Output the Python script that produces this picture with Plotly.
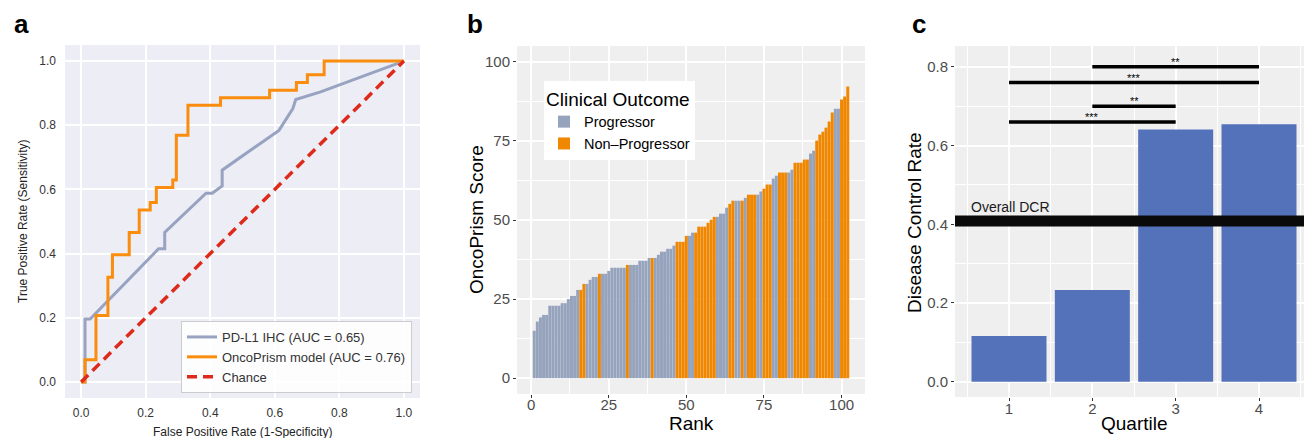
import plotly.graph_objects as go

W, H = 1304, 438
FONT = "Liberation Sans, Arial, Helvetica, sans-serif"

# ---------------- Panel a: ROC curves ----------------
pdl1_fpr = [0.0, 0.012, 0.012, 0.028, 0.240, 0.259, 0.259, 0.387, 0.406, 0.437, 0.437,
            0.613, 0.656, 0.665, 0.742, 1.0]
pdl1_tpr = [0.0, 0.0, 0.196, 0.196, 0.415, 0.415, 0.466, 0.588, 0.588, 0.611, 0.660,
            0.784, 0.852, 0.880, 0.904, 1.0]
onco_fpr = [0.0, 0.012, 0.012, 0.046, 0.046, 0.083, 0.083, 0.097, 0.097, 0.149, 0.149,
            0.180, 0.180, 0.214, 0.214, 0.233, 0.233, 0.284, 0.284, 0.295, 0.295,
            0.331, 0.331, 0.432, 0.432, 0.584, 0.584, 0.667, 0.667, 0.701, 0.701,
            0.753, 0.753, 1.0]
onco_tpr = [0.0, 0.0, 0.069, 0.069, 0.207, 0.207, 0.326, 0.326, 0.396, 0.396, 0.466,
            0.466, 0.536, 0.536, 0.559, 0.559, 0.606, 0.606, 0.629, 0.629, 0.769,
            0.769, 0.862, 0.862, 0.886, 0.886, 0.909, 0.909, 0.933, 0.933, 0.957,
            0.957, 1.0, 1.0]
chance_x = [0.0, 1.0]
chance_y = [0.0, 1.0]
roc_names = ["PD-L1 IHC (AUC = 0.65)", "OncoPrism model (AUC = 0.76)", "Chance"]
roc_ticks = [0.0, 0.2, 0.4, 0.6, 0.8, 1.0]

# ---------------- Panel b: ranked scores ----------------
scores = [15.0, 17.9, 19.2, 20.0, 20.0, 22.9, 22.9, 22.9, 22.9, 23.7,
          23.7, 25.0, 26.0, 26.0, 27.9, 27.9, 29.8, 29.8, 31.1, 32.0,
          32.0, 33.0, 33.0, 33.0, 33.9, 34.9, 34.9, 34.9, 34.9, 34.9,
          35.8, 35.8, 35.8, 35.8, 37.1, 37.1, 37.1, 38.0, 38.0, 38.0,
          39.0, 40.0, 40.0, 40.9, 40.9, 41.9, 43.1, 43.1, 43.1, 45.0,
          45.0, 46.0, 46.0, 47.9, 47.9, 47.9, 49.1, 50.1, 51.0, 51.0,
          52.0, 52.0, 53.9, 55.1, 56.1, 56.1, 56.1, 56.1, 57.0, 58.0,
          58.0, 58.0, 58.0, 59.0, 59.9, 61.2, 61.2, 63.1, 64.0, 65.0,
          65.0, 65.0, 65.0, 65.9, 68.1, 68.1, 68.1, 69.1, 69.1, 71.0,
          71.9, 75.1, 77.0, 77.9, 79.2, 81.1, 84.0, 85.2, 85.2, 88.1,
          89.0, 92.2]
# 0 = Progressor, 1 = Non-Progressor
outcome = [0, 0, 0, 0, 0, 0, 0, 0, 0, 0,
           0, 0, 0, 0, 0, 1, 1, 0, 0, 0,
           0, 1, 0, 0, 0, 0, 0, 0, 0, 0,
           1, 0, 0, 0, 0, 0, 0, 0, 1, 0,
           0, 0, 0, 0, 0, 0, 1, 1, 1, 1,
           0, 0, 1, 1, 1, 1, 1, 1, 1, 0,
           0, 0, 0, 1, 1, 0, 0, 1, 0, 1,
           1, 1, 0, 0, 1, 1, 1, 0, 0, 1,
           1, 1, 0, 0, 1, 1, 1, 1, 1, 0,
           0, 1, 1, 1, 1, 1, 1, 0, 0, 1,
           1, 1]
ranks = list(range(1, len(scores) + 1))
outcome_labels = ["Progressor", "Non\u2013Progressor"]
rank_ticks = [0, 25, 50, 75, 100]
score_ticks = [0, 25, 50, 75, 100]

# ---------------- Panel c: DCR by quartile ----------------
quartiles = [1, 2, 3, 4]
dcr = [0.116, 0.233, 0.641, 0.654]
overall_dcr = 0.408
sig_x0 = [1, 2, 1, 2]
sig_x1 = [3, 3, 4, 4]
sig_y = [0.66, 0.70, 0.76, 0.80]
sig_lab = ["***", "**", "***", "**"]
dcr_ticks = [0.0, 0.2, 0.4, 0.6, 0.8]

# colours
C_GRAY_LINE = "#98A3C2"
C_ORANGE_LINE = "#FA8C0E"
C_RED = "#DD2A1B"
C_GRAY_BAR = "#96A3BD"
C_ORANGE_BAR = "#F08700"
C_BLUE = "#5472BA"


def xd(a, b):
    return [a / W, b / W]


def yd(top, bottom):
    return [1 - bottom / H, 1 - top / H]


fig = go.Figure()

# panel a traces
fig.add_trace(go.Scatter(x=pdl1_fpr, y=pdl1_tpr, mode="lines", name=roc_names[0],
                         line=dict(color=C_GRAY_LINE, width=3), xaxis="x", yaxis="y",
                         legend="legend"))
fig.add_trace(go.Scatter(x=onco_fpr, y=onco_tpr, mode="lines", name=roc_names[1],
                         line=dict(color=C_ORANGE_LINE, width=3), xaxis="x", yaxis="y",
                         legend="legend"))
fig.add_trace(go.Scatter(x=chance_x, y=chance_y, mode="lines", name=roc_names[2],
                         line=dict(color=C_RED, width=3.5, dash="10px,6px"),
                         xaxis="x", yaxis="y", legend="legend"))

# panel b traces
for code, lab, col in [(0, outcome_labels[0], C_GRAY_BAR), (1, outcome_labels[1], C_ORANGE_BAR)]:
    xs = [r for r, o in zip(ranks, outcome) if o == code]
    ys = [s for s, o in zip(scores, outcome) if o == code]
    fig.add_trace(go.Bar(x=xs, y=ys, name=lab, marker=dict(color=col, line=dict(width=0)),
                         width=0.96, xaxis="x2", yaxis="y2", legend="legend2"))

# panel c traces
fig.add_trace(go.Bar(x=quartiles, y=dcr, width=0.9, marker=dict(color=C_BLUE, line=dict(width=0)),
                     xaxis="x3", yaxis="y3", showlegend=False))
for x0, x1, yv in zip(sig_x0, sig_x1, sig_y):
    fig.add_trace(go.Scatter(x=[x0, x1], y=[yv, yv], mode="lines",
                             line=dict(color="black", width=3.5),
                             xaxis="x3", yaxis="y3", showlegend=False, hoverinfo="skip"))

annotations = []
for x0, x1, yv, lab in zip(sig_x0, sig_x1, sig_y, sig_lab):
    annotations.append(dict(x=(x0 + x1) / 2, y=yv, xref="x3", yref="y3", text=lab,
                            showarrow=False, yanchor="bottom", yshift=-3,
                            font=dict(size=11, color="black", family=FONT)))
annotations.append(dict(x=0.52, y=overall_dcr, xref="x3", yref="y3", text="Overall DCR",
                        showarrow=False, xanchor="left", yanchor="bottom", yshift=4,
                        font=dict(size=14, color="#1a1a1a", family=FONT)))


# axis titles & panel letters
def ann(x, y, text, size, angle=0, bold=False, color="black"):
    t = f"<b>{text}</b>" if bold else text
    annotations.append(dict(x=x / W, y=1 - y / H, xref="paper", yref="paper", text=t,
                            showarrow=False, textangle=angle, xanchor="center", yanchor="middle",
                            font=dict(size=size, color=color, family=FONT)))


ann(21, 24, "a", 26, bold=True)
ann(475, 24, "b", 26, bold=True)
ann(919, 24, "c", 26, bold=True)
ann(242, 432, "False Positive Rate (1-Specificity)", 12, color="#222")
ann(23, 221, "True Positive Rate (Sensitivity)", 12, angle=-90, color="#222")
ann(476, 220, "OncoPrism Score", 19, angle=-90)
ann(691, 423, "Rank", 19)
ann(914, 222, "Disease Control Rate", 19, angle=-90)
ann(1134, 423, "Quartile", 19)

shapes = [
    dict(type="rect", xref="x domain", yref="y domain", x0=0, x1=1, y0=0, y1=1,
         fillcolor="#EDEDF5", line=dict(width=0), layer="below"),
    dict(type="rect", xref="x2 domain", yref="y2 domain", x0=0, x1=1, y0=0, y1=1,
         fillcolor="#EFEFEF", line=dict(width=0), layer="below"),
    dict(type="rect", xref="x3 domain", yref="y3 domain", x0=0, x1=1, y0=0, y1=1,
         fillcolor="#EFEFEF", line=dict(width=0), layer="below"),
    dict(type="line", xref="x3 domain", yref="y3", x0=0, x1=1, y0=overall_dcr, y1=overall_dcr,
         line=dict(color="#0a0a0a", width=11), layer="above"),
]

tick_a = dict(size=12, color="#333333", family=FONT)
tick_g = dict(size=15, color="#4D4D4D", family=FONT)

fig.update_layout(
    width=W, height=H, margin=dict(l=0, r=0, t=0, b=0),
    paper_bgcolor="white", plot_bgcolor="rgba(0,0,0,0)",
    font=dict(family=FONT),
    barmode="overlay",
    annotations=annotations, shapes=shapes,
    xaxis=dict(domain=xd(65, 420), range=[-0.05, 1.05], anchor="y",
               tickvals=roc_ticks, tickformat=".1f", ticks="", tickfont=tick_a,
               showgrid=True, gridcolor="white", gridwidth=1.5, zeroline=False,
               showline=False, ticklabelstandoff=6),
    yaxis=dict(domain=yd(45, 398), range=[-0.05, 1.05], anchor="x",
               tickvals=roc_ticks, tickformat=".1f", ticks="", tickfont=tick_a,
               showgrid=True, gridcolor="white", gridwidth=1.5, zeroline=False,
               showline=False, ticklabelstandoff=8),
    xaxis2=dict(domain=xd(517, 865), range=[-4.55, 107.55], anchor="y2",
                tickvals=rank_ticks, ticks="outside", ticklen=3, tickwidth=1.3, tickcolor="#333",
                tickfont=tick_g, showgrid=True, gridcolor="white", gridwidth=1.6,
                minor=dict(tick0=12.5, dtick=25, showgrid=True, gridcolor="white", gridwidth=0.8),
                zeroline=False, showline=False, ticklabelstandoff=-6),
    yaxis2=dict(domain=yd(46, 394), range=[-5, 105], anchor="x2",
                tickvals=score_ticks, ticks="outside", ticklen=3, tickwidth=1.3, tickcolor="#333",
                tickfont=tick_g, showgrid=True, gridcolor="white", gridwidth=1.6,
                minor=dict(tick0=12.5, dtick=25, showgrid=True, gridcolor="white", gridwidth=0.8),
                zeroline=False, showline=False),
    xaxis3=dict(domain=xd(955, 1304), range=[0.352, 4.54], anchor="y3",
                tickvals=quartiles, ticks="outside", ticklen=3, tickwidth=1.3, tickcolor="#333",
                tickfont=tick_g, showgrid=True, gridcolor="white", gridwidth=1.6,
                minor=dict(tick0=0.5, dtick=1, showgrid=True, gridcolor="white", gridwidth=0.8),
                zeroline=False, showline=False, ticklabelstandoff=-5),
    yaxis3=dict(domain=yd(46, 397), range=[-0.039, 0.853], anchor="x3",
                tickvals=dcr_ticks, tickformat=".1f", ticks="outside", ticklen=3, tickwidth=1.3,
                tickcolor="#333", tickfont=tick_g, showgrid=True, gridcolor="white", gridwidth=1.6,
                minor=dict(tick0=0.1, dtick=0.2, showgrid=True, gridcolor="white", gridwidth=0.8),
                zeroline=False, showline=False),
    legend=dict(x=412 / W, xanchor="right", y=1 - 393 / H, yanchor="bottom",
                bgcolor="rgba(255,255,255,0.85)", bordercolor="#CCCCCC", borderwidth=1,
                font=dict(size=13, color="#333", family=FONT), itemwidth=30,
                tracegroupgap=0),
    legend2=dict(x=544 / W, xanchor="left", y=1 - 81 / H, yanchor="top",
                 bgcolor="white", borderwidth=0,
                 title=dict(text="Clinical Outcome", font=dict(size=19, color="black", family=FONT)),
                 font=dict(size=14.5, color="black", family=FONT), itemwidth=30,
                 tracegroupgap=0),
)

fig.write_html("out.html", config={"displayModeBar": False},
               post_script="document.body.style.margin='0';document.body.style.padding='0';")
